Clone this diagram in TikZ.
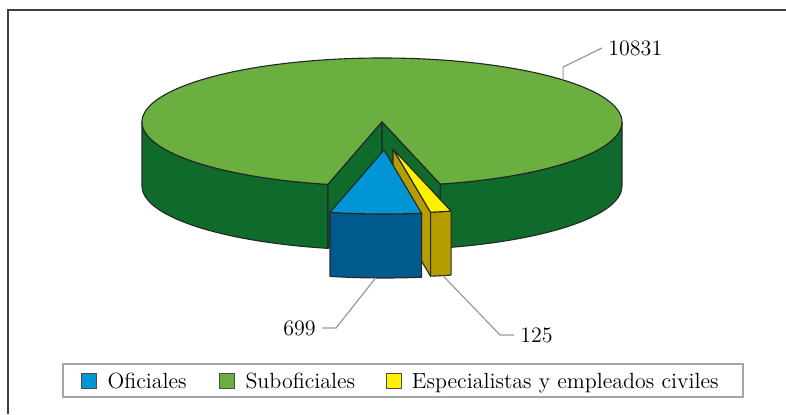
\documentclass[tikz,border=0pt]{standalone}
\usetikzlibrary{positioning,calc}
\definecolor{verdeclaro}{RGB}{106,175,63}
\definecolor{verdeoscuro}{RGB}{15,107,43}
\definecolor{azulclaro}{RGB}{0,150,214}
\definecolor{azuloscuro}{RGB}{0,90,142}
\definecolor{amarillo}{RGB}{255,240,0}
\definecolor{ocre}{RGB}{181,157,0}
\begin{document}
\begin{tikzpicture}[x=0.5pt,y=0.5pt,
    cara/.style = {draw=black!85, line width=0.55pt, line join=round},
    guia/.style = {draw=black!40, line width=0.6pt},
    num/.style = {inner sep=3pt, font=\fontsize{11}{13}\selectfont},
    cuadro/.style = {draw=black!70, line width=0.5pt, minimum size=7.5pt, inner sep=0pt},
    leyenda/.style = {inner sep=0pt, text height=7.5pt, text depth=0pt, font=\fontsize{11}{13}\selectfont}]
    \useasboundingbox (0,0) rectangle (786,414);
    \draw[black!75, line width=1pt] (786,404) -- (8,404) -- (8,0);

    \coordinate (cg) at (382,292);
    \coordinate (cb) at (384,264);
    \coordinate (cy) at (393,265);

    \path[cara, fill=verdeoscuro] ($(cg)+(180:120pt and 32pt)$) arc[start angle=180, end angle=257, x radius=120pt, y radius=32pt] -- ++(0,-64) arc[start angle=257, end angle=180, x radius=120pt, y radius=32pt] -- cycle;
    \path[cara, fill=verdeoscuro] ($(cg)+(284:120pt and 32pt)$) arc[start angle=284, end angle=360, x radius=120pt, y radius=32pt] -- ++(0,-64) arc[start angle=360, end angle=284, x radius=120pt, y radius=32pt] -- cycle;
    \path[cara, fill=verdeclaro] (cg) -- ($(cg)+(284:120pt and 32pt)$) arc[start angle=284, end angle=617, x radius=120pt, y radius=32pt] -- cycle;
    \path[cara, fill=verdeoscuro] (cg) -- ($(cg)+(257:120pt and 32pt)$) -- ++(0,-64) -- ($(cg)+(0,-64)$) -- cycle;
    \path[cara, fill=verdeoscuro] (cg) -- ($(cg)+(284:120pt and 32pt)$) -- ++(0,-64) -- ($(cg)+(0,-64)$) -- cycle;

    \path[cara, fill=ocre] (cy) -- ($(cy)+(279:120pt and 32pt)$) -- ++(0,-64) -- ($(cy)+(0,-64)$) -- cycle;
    \path[cara, fill=ocre] ($(cy)+(279:120pt and 32pt)$) arc[start angle=279, end angle=284, x radius=120pt, y radius=32pt] -- ++(0,-64) arc[start angle=284, end angle=279, x radius=120pt, y radius=32pt] -- cycle;
    \path[cara, fill=amarillo] (cy) -- ($(cy)+(279:120pt and 32pt)$) arc[start angle=279, end angle=284, x radius=120pt, y radius=32pt] -- cycle;

    \path[cara, fill=azuloscuro] ($(cb)+(257:120pt and 32pt)$) arc[start angle=257, end angle=279, x radius=120pt, y radius=32pt] -- ++(0,-64) arc[start angle=279, end angle=257, x radius=120pt, y radius=32pt] -- cycle;
    \path[cara, fill=azulclaro] (cb) -- ($(cb)+(257:120pt and 32pt)$) arc[start angle=257, end angle=279, x radius=120pt, y radius=32pt] -- cycle;

    \coordinate (a10831) at ($(cg)+(41:120pt and 32pt)$);
    \coordinate (a699) at ($(cb)+(0,-64)+(268:120pt and 32pt)$);
    \coordinate (a125) at ($(cy)+(0,-64)+(282:120pt and 32pt)$);
    \node[num, anchor=west] (n10831) at (602,366) {10831};
    \node[num, anchor=east] (n699) at (322,86) {699};
    \node[num, anchor=west] (n125) at (514,79) {125};
    \draw[guia] (a10831) -- ++(0,13) -- (n10831.west);
    \draw[guia] (a699) -- ($(n699.east)+(14,0)$) -- (n699.east);
    \draw[guia] (a125) -- ($(n125.west)+(-14,0)$) -- (n125.west);

    \node[draw=black!35, line width=0.8pt, minimum width=340pt, minimum height=16.5pt, inner sep=0pt] (ley) at (403,33.5) {};
    \node[cuadro, fill=azulclaro, right=9.5pt of ley.west] (cofi) {};
    \node[leyenda, right=5pt of cofi] (tofi) {Oficiales};
    \node[cuadro, fill=verdeclaro, right=16pt of tofi] (csub) {};
    \node[leyenda, right=5pt of csub] (tsub) {Suboficiales};
    \node[cuadro, fill=amarillo, right=15pt of tsub] (cesp) {};
    \node[leyenda, right=5pt of cesp] (tesp) {Especialistas y empleados civiles};
\end{tikzpicture}
\end{document}
